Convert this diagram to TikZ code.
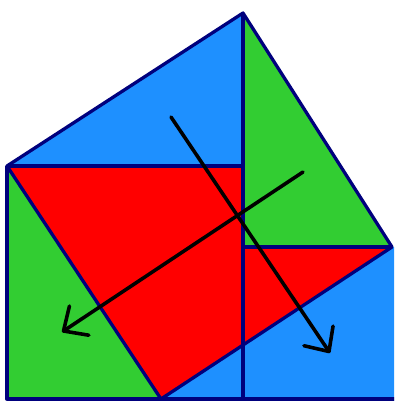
\documentclass[tikz,border=0pt]{standalone}
\usetikzlibrary{arrows.meta}

\definecolor{skyblue}{RGB}{30,144,255}
\definecolor{leafgreen}{RGB}{50,205,50}
\definecolor{edgenavy}{RGB}{0,0,125}

\begin{document}
\begin{tikzpicture}[
  x=0.7pt, y=-0.7pt,
  edge/.style={draw=edgenavy, line width=2.3pt, line join=round},
  move/.style={draw=black, line width=2.5pt, line cap=round,
               -{Straight Barb[angle=86:18pt, round]}},
]
\useasboundingbox (0,0) rectangle (394,401);
\clip (0,0) rectangle (394,401);

\coordinate (cL) at (7,166);
\coordinate (cT) at (243,13);
\coordinate (cR) at (392,247);
\coordinate (cB) at (161,399);
\coordinate (m1) at (243,166);
\coordinate (m2) at (243,247);
\coordinate (foot) at (243,399);
\coordinate (bl) at (7,399);
\coordinate (br) at (398,399);

% the pieces
\fill[skyblue] (cL) -- (cT) -- (m1) -- cycle;
\fill[leafgreen] (cT) -- (cR) -- (m2) -- cycle;
\fill[red] (cL) -- (m1) -- (m2) -- (cR) -- (cB) -- cycle;
\fill[leafgreen] (cL) -- (cB) -- (161,405) -- (7,405) -- cycle;
\fill[skyblue] (cB) -- (cR) -- (398,247) -- (398,405) -- (161,405) -- cycle;

% outlines
\draw[edge] (cL) -- (cT) -- (cR) -- (cB) -- cycle;
\draw[edge] (cL) -- (m1);
\draw[edge] (cT) -- (foot);
\draw[edge] (m2) -- (cR);
\draw[edge] (cL) -- (bl) -- (br);

% moves
\coordinate (a1s) at (303,172);
\coordinate (a1e) at (62,332);
\coordinate (a2s) at (171,117);
\coordinate (a2e) at (330,353);
\draw[move] (a1s) -- (a1e);
\draw[move] (a2s) -- (a2e);

\end{tikzpicture}
\end{document}
